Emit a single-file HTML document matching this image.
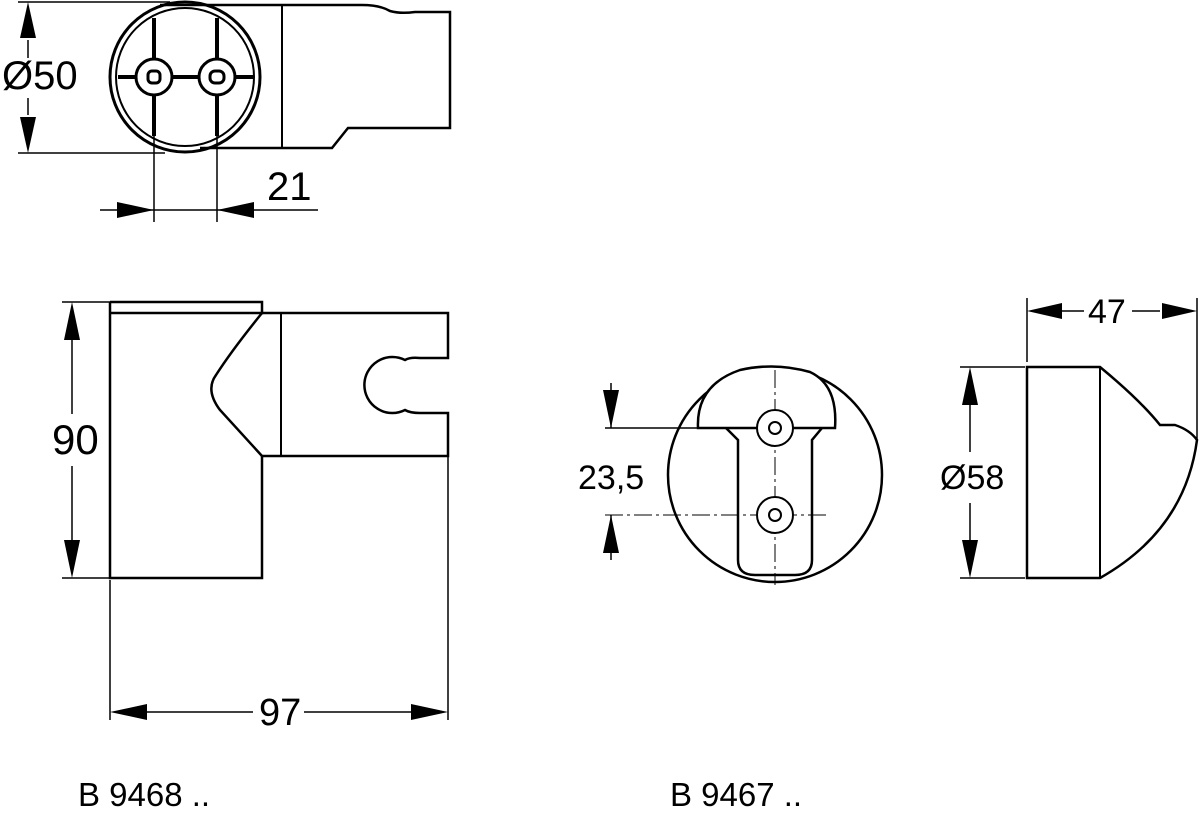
<!DOCTYPE html>
<html><head><style>body{margin:0;background:#fff}svg{display:block}text{font-family:"Liberation Sans",sans-serif;fill:#000}</style></head><body>
<svg width="1200" height="816" viewBox="0 0 1200 816" xmlns="http://www.w3.org/2000/svg">
<g fill="none" stroke="#000" stroke-width="1.5">
<!-- TOP VIEW -->
<line x1="18" y1="2" x2="170" y2="2"/>
<line x1="18" y1="153" x2="165" y2="153"/>
<line x1="28" y1="40" x2="28" y2="58"/><line x1="28" y1="98" x2="28" y2="115"/>
<path d="M160 5 H362 Q380 5 390 11 Q400 14 415 12 H450 V128 H348 L332 148 H200" stroke-width="2.5"/>
<line x1="282" y1="5" x2="282" y2="148" stroke-width="2"/>
<circle cx="185" cy="77" r="75" stroke-width="3"/>
<circle cx="185" cy="77" r="69" stroke-width="2"/>
<line x1="154" y1="18" x2="154" y2="136" stroke-width="4"/>
<line x1="217" y1="18" x2="217" y2="136" stroke-width="4"/>
<line x1="118" y1="77" x2="254" y2="77" stroke-width="4"/>
<circle cx="154" cy="77" r="18" fill="#fff" stroke-width="3"/>
<circle cx="217" cy="77" r="18" fill="#fff" stroke-width="3"/>
<rect x="148" y="71" width="12" height="12" rx="4" stroke-width="3"/>
<rect x="210" y="71" width="14" height="12" rx="5" stroke-width="3"/>
<line x1="154" y1="136" x2="154" y2="222"/><line x1="217" y1="136" x2="217" y2="222"/>
<line x1="100" y1="210" x2="318" y2="210"/>
<!-- FRONT VIEW -->
<path d="M110 302 H262 V313 H110" stroke-width="2.5"/>
<path d="M110 302 V578 H262 V456" stroke-width="2.5"/>
<path d="M262 313 Q232 350 216 375 Q205 390 220 410 L262 456" stroke-width="2.5"/>
<path d="M262 313 H448 V358 H420 Q410 357 405 360 A28 28 0 1 0 405 410 Q410 413 420 413 H448 V456 H262" stroke-width="2.5"/>
<line x1="281" y1="313" x2="281" y2="456" stroke-width="2"/>
<line x1="62" y1="302" x2="110" y2="302"/><line x1="62" y1="578" x2="110" y2="578"/>
<line x1="72" y1="340" x2="72" y2="414"/><line x1="72" y1="466" x2="72" y2="540"/>
<line x1="110" y1="580" x2="110" y2="720"/><line x1="448" y1="456" x2="448" y2="720"/>
<line x1="145" y1="712" x2="253" y2="712"/><line x1="304" y1="712" x2="412" y2="712"/>
<!-- CIRCLE VIEW -->
<circle cx="775" cy="475" r="107" stroke-width="2.5"/>
<path d="M698 428 Q696 385 740 370 Q775 362 810 372 Q838 385 835 428 Z" stroke-width="2.5" fill="#fff"/>
<path d="M726 428 L738 440 V560 Q738 575 755 575 H795 Q812 575 812 560 V440 L822 428" stroke-width="2.5"/>
<line x1="775" y1="370" x2="775" y2="585" stroke-dasharray="18 4 3 4" stroke-width="1"/>
<line x1="605" y1="515" x2="830" y2="515" stroke-dasharray="18 4 3 4" stroke-width="1"/>
<line x1="605" y1="428" x2="720" y2="428"/>
<circle cx="775" cy="428" r="18" fill="#fff" stroke-width="2"/><circle cx="775" cy="428" r="6" stroke-width="2"/>
<circle cx="775" cy="515" r="18" fill="#fff" stroke-width="2"/><circle cx="775" cy="515" r="6" stroke-width="2"/>
<line x1="611" y1="383" x2="611" y2="428"/><line x1="611" y1="515" x2="611" y2="560"/>
<!-- SIDE VIEW -->
<path d="M1027 367 H1100 Q1140 400 1160 425 H1175 Q1190 430 1197 440 Q1185 530 1100 578 H1027 Z" stroke-width="2.5"/>
<line x1="1100" y1="367" x2="1100" y2="578" stroke-width="2"/>
<line x1="1027" y1="298" x2="1027" y2="362"/><line x1="1197" y1="298" x2="1197" y2="440"/>
<line x1="1060" y1="311" x2="1084" y2="311"/><line x1="1132" y1="311" x2="1160" y2="311"/>
<line x1="960" y1="367" x2="1025" y2="367"/><line x1="960" y1="578" x2="1025" y2="578"/>
<line x1="970" y1="405" x2="970" y2="452"/><line x1="970" y1="503" x2="970" y2="540"/>
</g>
<g fill="#000">
<polygon points="28,2 20,38 36,38"/><polygon points="28,153 20,117 36,117"/>
<polygon points="154,210 117,202 117,218"/><polygon points="217,210 254,202 254,218"/>
<polygon points="72,302 64,340 80,340"/><polygon points="72,578 64,540 80,540"/>
<polygon points="110,712 147,704 147,720"/><polygon points="448,712 411,704 411,720"/>
<polygon points="611,428 603,390 619,390"/><polygon points="611,515 603,553 619,553"/>
<polygon points="1027,311 1062,303 1062,319"/><polygon points="1197,311 1162,303 1162,319"/>
<polygon points="970,367 962,405 978,405"/><polygon points="970,578 962,540 978,540"/>
</g>
<g>
<text x="2" y="89" font-size="40">Ø50</text>
<text x="267" y="200" font-size="40">21</text>
<text x="52" y="454" font-size="42">90</text>
<text x="259" y="725" font-size="38">97</text>
<text x="578" y="489" font-size="34">23,5</text>
<text x="940" y="489" font-size="34">Ø58</text>
<text x="1088" y="323" font-size="34">47</text>
</g>
<g font-size="33">
<text x="78" y="806">B 9468 ..</text>
<text x="670" y="806">B 9467 ..</text>
</g>
</svg>
</body></html>
